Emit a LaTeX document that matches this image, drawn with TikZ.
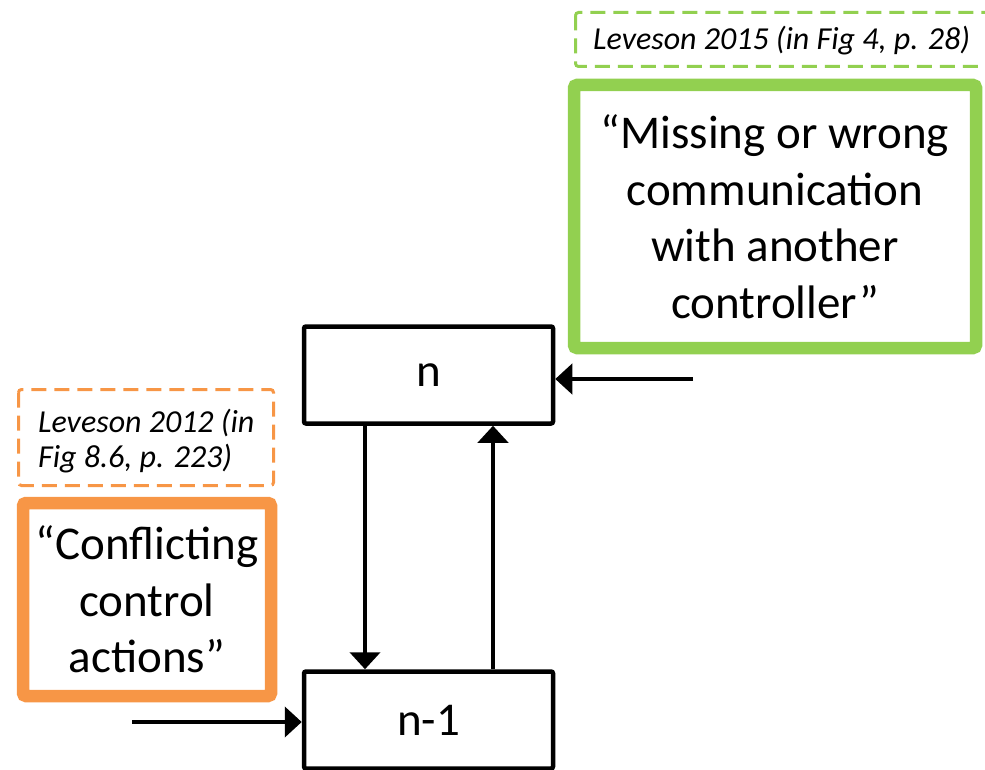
\documentclass[tikz,border=0pt]{standalone}
\usepackage{fontspec}
\setmainfont{Carlito}
\usetikzlibrary{arrows.meta}
\definecolor{leafgreen}{HTML}{92D050}
\definecolor{warmorange}{HTML}{F79646}
\begin{document}
\begin{tikzpicture}[x=1pt,y=-1pt,
  ctrlbox/.style={draw=black,line width=4.5pt,rounded corners=2pt,
    minimum width=249pt,minimum height=97pt,inner sep=0pt,
    font=\fontsize{47}{56}\selectfont},
  quotebox/.style={draw=#1,line width=12.5pt,rounded corners=3pt,inner sep=0pt,
    align=center,font=\fontsize{47}{56.5}\selectfont},
  srcbox/.style={draw=#1,line width=3pt,dash pattern=on 15pt off 8pt,rounded corners=3pt},
  srctext/.style={inner sep=0pt,font=\fontsize{32}{35}\selectfont\itshape},
  flow/.style={line width=4.5pt,-{Triangle[length=17pt,width=30pt]}}]
\useasboundingbox (0,0) rectangle (985,770);
\clip (0,0) rectangle (985,770);

% controllers at level n and n-1
\node[ctrlbox] (n)  at (428.5,375) {n};
\node[ctrlbox] (n1) at (428.5,720) {n-1};

% control action down, feedback up
\coordinate (down) at (365,0);
\coordinate (up)   at (493,0);
\draw[flow] (n.south -| down) -- (n1.north -| down);
\draw[flow] (n1.north -| up) -- (n.south -| up);

% inputs from other controllers
\coordinate (fromright) at (693,379);
\coordinate (fromleft)  at (132,722);
\draw[flow] (fromright) -- (n.east |- fromright);
\draw[flow] (fromleft) -- (n1.west |- fromleft);

% quoted hazard causes
\node[quotebox=leafgreen,minimum width=402pt,minimum height=263pt] (miss) at (775,216.5)
  {“Missing or wrong\\communication\\with another\\controller”};
\node[quotebox=warmorange,minimum width=248pt,minimum height=193pt] (confl) at (147,599.5)
  {“Conflicting\\control\\actions”};

% sources
\draw[srcbox=leafgreen] (575.5,12.5) rectangle (1000,66.5);
\node[srctext,anchor=base west] (src15) at (593,50) {Leveson 2015 (in Fig 4, p. 28)};
\draw[srcbox=warmorange] (18.5,389.5) rectangle (273.5,485.5);
\node[srctext,anchor=base west,align=left] (src12) at (38,467)
  {Leveson 2012 (in\\Fig 8.6, p. 223)};
\end{tikzpicture}
\end{document}
